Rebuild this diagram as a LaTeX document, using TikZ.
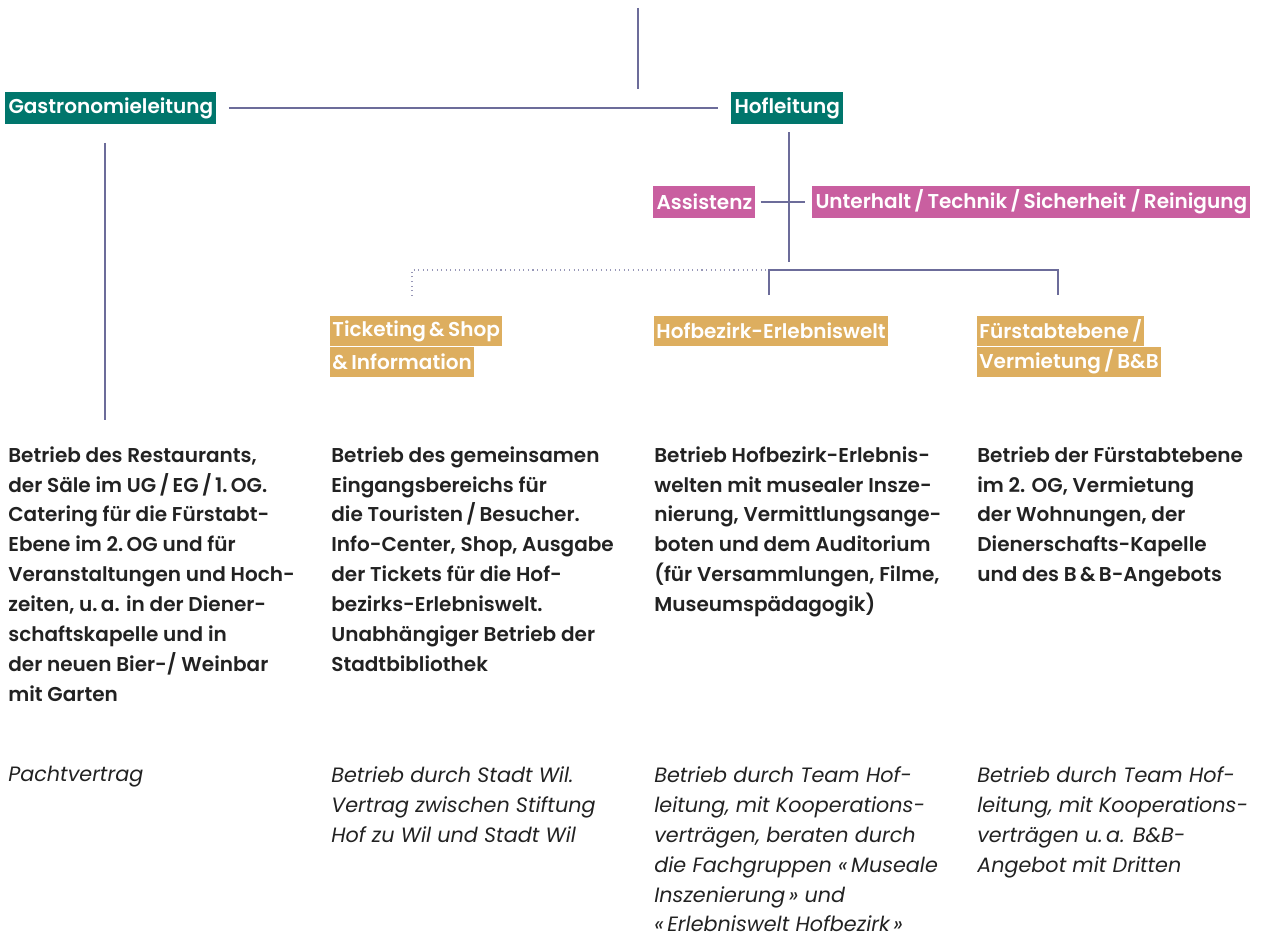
\documentclass[tikz,border=0pt]{standalone}
\usepackage{fontspec}
\IfFontExistsTF{Poppins SemiBold}
	{\setmainfont{Poppins}[BoldFont={Poppins SemiBold}]}
	{\setmainfont{Poppins}}
\usepackage{tikz}
\usetikzlibrary{positioning,calc}

\definecolor{hofteal}{HTML}{00766C}
\definecolor{hofpink}{HTML}{C95FA0}
\definecolor{hofgold}{HTML}{DDAE5F}
\definecolor{hofline}{HTML}{6C6C9A}
\definecolor{hoftext}{HTML}{222222}

\begin{document}
\begin{tikzpicture}[x=0.02cm,y=-0.02cm,
	every node/.style={font=\fontsize{11.4}{17.05}\selectfont},
	lead/.style={fill=hofteal,text=white,font=\fontsize{11.4}{17.05}\selectfont\bfseries,inner xsep=1.8pt,inner ysep=0pt,minimum height=18.2pt,anchor=west},
	staff/.style={lead,fill=hofpink},
	unit/.style={lead,fill=hofgold,minimum height=17pt,inner xsep=1.2pt},
	task/.style={anchor=north west,align=left,inner sep=0pt,text=hoftext,font=\fontsize{11.4}{17.05}\selectfont\bfseries},
	deal/.style={task,font=\fontsize{11.8}{17.05}\selectfont\itshape},
	link/.style={draw=hofline,line width=0.7pt},
	loose/.style={link,draw=hofline!70,line width=0.6pt,dotted}]
	\useasboundingbox (0,0) rectangle (1272,936);
	% Leitung
		\node (gastro) at (5,108) [lead] {Gastronomieleitung};
		\node (hof) at (731,108) [lead] {Hofleitung};
		\node (assist) at (653,202) [staff] {Assistenz};
		\node (unterhalt) at (812,202) [staff] {Unterhalt\,/\,Technik\,/\,Sicherheit\ /\,Reinigung};
	% Bereiche
		\node (ticket) at (330,331) [unit] {Ticketing\,\&\,Shop};
		\node (ticket2) [unit,anchor=north west] at (ticket.south west) {\&\,Information};
		\node (erlebnis) at (654,331) [unit] {Hofbezirk-Erlebniswelt};
		\node (fuerst) at (977,331) [unit] {Fürstabtebene\,/};
		\node (fuerst2) [unit,anchor=north west] at (fuerst.south west) {Vermietung\,/\,B\&B};
	% Aufgaben
		\node (gtask) at (8,446) [task] {Betrieb des Restaurants,\\der Säle im UG\,/\,EG\,/\,1.\,OG.\\Catering für die Fürstabt-\\Ebene im 2.\,OG und für\\Veranstaltungen und Hoch-\\zeiten, u.\,a. in der Diener-\\schaftskapelle und in\\der neuen Bier-/ Weinbar\\mit Garten};
		\node (ttask) at (331,446) [task] {Betrieb des gemeinsamen\\Eingangsbereichs für\\die Touristen\,/\,Besucher.\\Info-Center, Shop, Ausgabe\\der Tickets für die Hof-\\bezirks-Erlebniswelt.\\Unabhängiger Betrieb der\\Stadtbibliothek};
		\node (etask) at (654,446) [task] {Betrieb Hofbezirk-Erlebnis-\\welten mit musealer Insze-\\nierung, Vermittlungsange-\\boten und dem Auditorium\\(für Versammlungen, Filme,\\Museumspädagogik)};
		\node (ftask) at (977,446) [task] {Betrieb der Fürstabtebene\\im 2. OG, Vermietung\\der Wohnungen, der\\Dienerschafts-Kapelle\\und des B\,\&\,B-Angebots};
	% Vertraege
		\node (gdeal) at (8,766) [deal] {Pachtvertrag};
		\node (tdeal) at (331,766) [deal] {Betrieb durch Stadt Wil.\\Vertrag zwischen Stiftung\\Hof zu Wil und Stadt Wil};
		\node (edeal) at (654,766) [deal] {Betrieb durch Team Hof-\\leitung, mit Kooperations-\\verträgen, beraten durch\\die Fachgruppen «\,Museale\\Inszenierung\,» und\\«\,Erlebniswelt Hofbezirk\,»};
		\node (fdeal) at (977,766) [deal] {Betrieb durch Team Hof-\\leitung, mit Kooperations-\\verträgen u.\,a. B\&B-\\Angebot mit Dritten};
	% Linien
		\coordinate (top) at (638,8);
		\coordinate (topend) at (638,89);
		\coordinate (gtop) at (105,143);
		\coordinate (gend) at (105,420);
		\coordinate (hofend) at (789,262);
		\coordinate (bl) at (412,270);
		\coordinate (bm) at (769,270);
		\coordinate (br) at (1058,270);
		\draw[link] (top) -- (topend);
		\draw[link,shorten <=6.8pt,shorten >=7.4pt] (gastro) -- (hof);
		\draw[link] (gtop) -- (gend);
		\draw[link,shorten <=4.5pt] (hof.south -| hofend) -- (hofend);
		\draw[link,shorten <=2.8pt,shorten >=4pt] (assist) -- (unterhalt);
		\draw[loose] (bl |- ticket.north) ++(0,-20) -- (bl) -- (bm);
		\draw[link] (bm) ++(0,25) -- (bm) -- (br) -- ++(0,25);
\end{tikzpicture}
\end{document}
